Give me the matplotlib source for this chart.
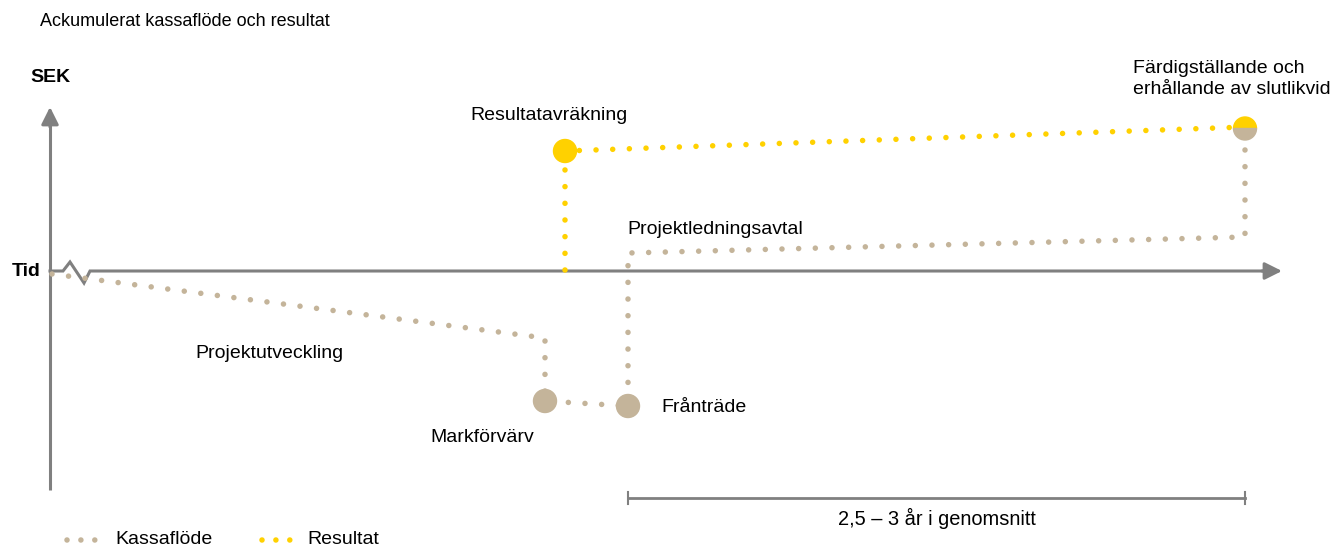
import matplotlib
matplotlib.use("Agg")
import matplotlib.pyplot as plt
from matplotlib.patches import Circle, Wedge

# path of the two series (x = time, y = SEK, arbitrary units)
kassa_x = [52, 545, 545, 628, 628, 1245, 1245]
kassa_y = [-3, -67, -130, -135, 18, 34, 141]
result_x = [565, 565, 1245]
result_y = [1, 120, 144]

# milestones drawn as big dots (index into the paths)
kassa_marks = [2, 3]
result_marks = [1]

labels = ["Resultatavräkning", "Projektledningsavtal", "Projektutveckling",
          "Markförvärv", "Frånträde", "Färdigställande och\nerhållande av slutlikvid"]
label_x = [549, 627, 195, 430, 661, 1133]
label_y = [156, 42, -82, -167, -136, 192]
label_ha = ["center", "left", "left", "left", "left", "left"]

period_start, period_end = 628, 1245
period_text = "2,5 – 3 år i genomsnitt"

GREY = "#C4B49A"
YELLOW = "#FFD100"
AXIS = "#808080"
SANS = ["Liberation Sans", "DejaVu Sans"]

fig = plt.figure(figsize=(13.37, 5.47), dpi=100)
ax = fig.add_axes([0, 0, 1, 1])
ax.set_xlim(0, 1337)
ax.set_ylim(-276, 271)
ax.axis("off")

dot = dict(lw=4.0, linestyle=(0, (0.001, 3.0)), dash_capstyle="round")

# axes of the diagram
ax.plot([50, 50], [-219, 150], color=AXIS, lw=2.2, solid_capstyle="butt")
ax.annotate("", xy=(50, 164), xytext=(50, 144),
            arrowprops=dict(arrowstyle="-|>", color=AXIS, lw=2.2,
                            mutation_scale=26, shrinkA=0, shrinkB=0))
ax.plot([50, 63, 70, 84, 90, 1268], [0, 0, 9, -12, 0, 0], color=AXIS, lw=2.2,
        solid_joinstyle="miter")
ax.annotate("", xy=(1282, 0), xytext=(1262, 0),
            arrowprops=dict(arrowstyle="-|>", color=AXIS, lw=2.2,
                            mutation_scale=26, shrinkA=0, shrinkB=0))

# series
ax.plot(kassa_x, kassa_y, color=GREY, zorder=3, **dot)
ax.plot(result_x, result_y, color=YELLOW, zorder=3, **dot)

r = 11.5
for i in kassa_marks:
    ax.add_patch(Circle((kassa_x[i], kassa_y[i]), r, color=GREY, zorder=4))
for i in result_marks:
    ax.add_patch(Circle((result_x[i], result_y[i]), r, color=YELLOW, zorder=4))
# final point: both series meet, half yellow / half grey
ex, ey = result_x[-1], (result_y[-1] + kassa_y[-1]) / 2
ax.add_patch(Wedge((ex, ey), r, 0, 180, color=YELLOW, zorder=4))
ax.add_patch(Wedge((ex, ey), r, 180, 360, color=GREY, zorder=4))

# labels
for t, x, y, ha in zip(labels, label_x, label_y, label_ha):
    ax.text(x, y, t, ha=ha, va="center", fontsize=14, family=SANS,
            linespacing=1.25)

ax.text(40, 249, "Ackumulerat kassaflöde och resultat", fontsize=13,
        family=SANS, va="center", ha="left")
ax.text(30, 193, "SEK", fontsize=14, fontweight="bold", family=SANS, va="center")
ax.text(12, 0, "Tid", fontsize=14, fontweight="bold", family=SANS, va="center")

# period bracket
ax.plot([period_start, period_end], [-227, -227], color=AXIS, lw=2)
for px in (period_start, period_end):
    ax.plot([px, px], [-221, -233], color=AXIS, lw=1.5)
ax.text((period_start + period_end) / 2, -247, period_text, fontsize=14.4,
        family=SANS, ha="center", va="center")

# legend
leg = dict(lw=4.0, linestyle=(0, (0.001, 2.5)), dash_capstyle="round")
ax.plot([67, 96], [-269, -269], color=GREY, **leg)
ax.text(115, -269, "Kassaflöde", fontsize=14, family=SANS, va="center")
ax.plot([262, 291], [-269, -269], color=YELLOW, **leg)
ax.text(307, -269, "Resultat", fontsize=14, family=SANS, va="center")

fig.savefig("out.png", dpi=100)
